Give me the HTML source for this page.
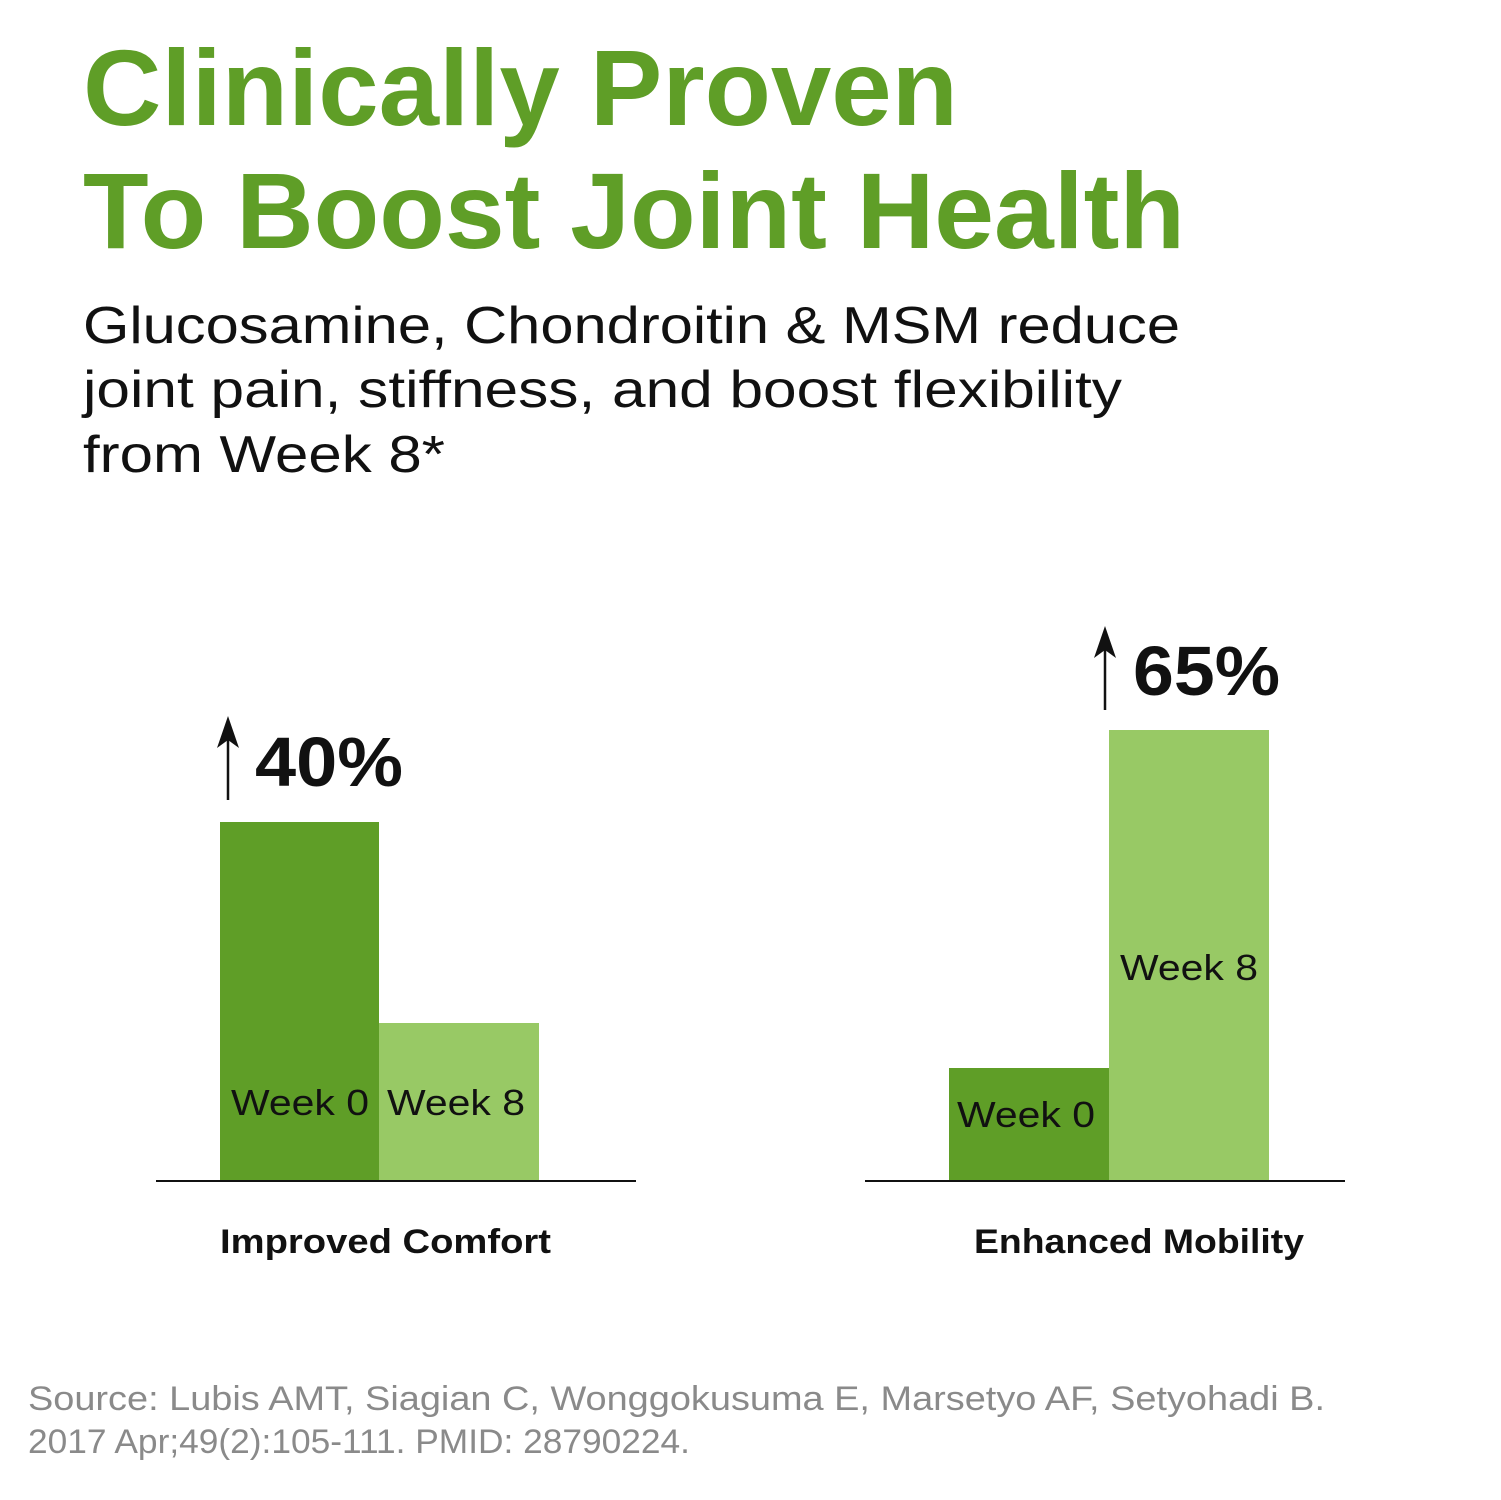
<!DOCTYPE html>
<html><head><meta charset="utf-8"><style>
html,body{margin:0;padding:0;background:#fff;}
svg{display:block;}
</style></head><body>
<svg width="1501" height="1500" viewBox="0 0 1501 1500" xmlns="http://www.w3.org/2000/svg" font-family="Liberation Sans, sans-serif">
<rect width="1501" height="1500" fill="#fff"/>
<text x="83" y="125" font-size="108" font-weight="bold" fill="#5f9e27" textLength="875" lengthAdjust="spacingAndGlyphs">Clinically Proven</text>
<text x="83" y="248" font-size="108" font-weight="bold" fill="#5f9e27" textLength="1102" lengthAdjust="spacingAndGlyphs">To Boost Joint Health</text>
<text x="83" y="343" font-size="52" fill="#111" textLength="1097" lengthAdjust="spacingAndGlyphs">Glucosamine, Chondroitin &amp; MSM reduce</text>
<text x="83" y="407" font-size="52" fill="#111" textLength="1039" lengthAdjust="spacingAndGlyphs">joint pain, stiffness, and boost flexibility</text>
<text x="83" y="472" font-size="52" fill="#111" textLength="362" lengthAdjust="spacingAndGlyphs">from Week 8*</text>

<rect x="220" y="822" width="159" height="358" fill="#5f9e27"/>
<rect x="379" y="1023" width="160" height="157" fill="#98c965"/>
<line x1="156" y1="1181" x2="636" y2="1181" stroke="#111" stroke-width="2"/>
<text x="231" y="1115" font-size="36" fill="#111" textLength="138" lengthAdjust="spacingAndGlyphs">Week 0</text>
<text x="387" y="1115" font-size="36" fill="#111" textLength="138" lengthAdjust="spacingAndGlyphs">Week 8</text>
<line x1="228" y1="735" x2="228" y2="800" stroke="#111" stroke-width="2.5"/>
<path d="M217 748 L228 716 L239 748 L228 740 Z" fill="#111"/>
<text x="255" y="786" font-size="70" font-weight="bold" fill="#111" textLength="148" lengthAdjust="spacingAndGlyphs">40%</text>
<text x="220" y="1253" font-size="34" font-weight="bold" fill="#111" textLength="331" lengthAdjust="spacingAndGlyphs">Improved Comfort</text>

<rect x="949" y="1068" width="160" height="112" fill="#5f9e27"/>
<rect x="1109" y="730" width="160" height="450" fill="#98c965"/>
<line x1="865" y1="1181" x2="1345" y2="1181" stroke="#111" stroke-width="2"/>
<text x="957" y="1127" font-size="36" fill="#111" textLength="138" lengthAdjust="spacingAndGlyphs">Week 0</text>
<text x="1120" y="980" font-size="36" fill="#111" textLength="138" lengthAdjust="spacingAndGlyphs">Week 8</text>
<line x1="1105" y1="645" x2="1105" y2="710" stroke="#111" stroke-width="2.5"/>
<path d="M1094 658 L1105 626 L1116 658 L1105 650 Z" fill="#111"/>
<text x="1133" y="695" font-size="70" font-weight="bold" fill="#111" textLength="147" lengthAdjust="spacingAndGlyphs">65%</text>
<text x="974" y="1253" font-size="34" font-weight="bold" fill="#111" textLength="330" lengthAdjust="spacingAndGlyphs">Enhanced Mobility</text>

<text x="28" y="1410" font-size="34" fill="#8a8a8a" textLength="1297" lengthAdjust="spacingAndGlyphs">Source: Lubis AMT, Siagian C, Wonggokusuma E, Marsetyo AF, Setyohadi B.</text>
<text x="28" y="1453" font-size="34" fill="#8a8a8a" textLength="662" lengthAdjust="spacingAndGlyphs">2017 Apr;49(2):105-111. PMID: 28790224.</text>
</svg>
</body></html>
